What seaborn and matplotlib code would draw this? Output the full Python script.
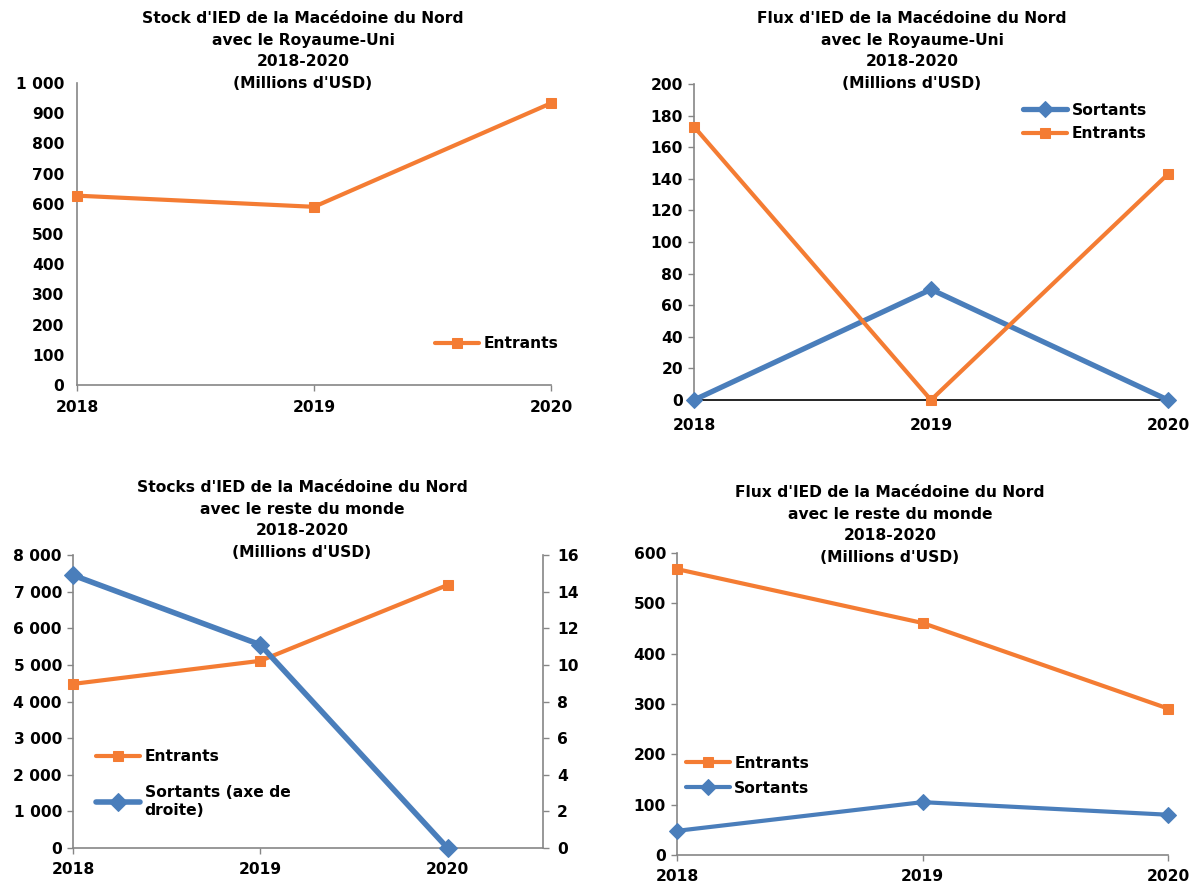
import os
import matplotlib
matplotlib.use("Agg")
import matplotlib.pyplot as plt
import matplotlib.ticker as mticker
from matplotlib.font_manager import FontProperties
import seaborn as sns

sns.set_theme(style="white")
plt.rcParams["font.family"] = "sans-serif"
plt.rcParams["font.sans-serif"] = ["DejaVu Sans"]
plt.rcParams["font.weight"] = "bold"
plt.rcParams["text.color"] = "black"

FS = 11.2
_bold = os.path.join(matplotlib.get_data_path(), "fonts", "ttf", "DejaVuSans-Bold.ttf")
if os.path.exists(_bold):
    FP = FontProperties(fname=_bold, size=FS)
else:
    FP = FontProperties(family="DejaVu Sans", weight="bold", size=FS)

# ---- data -------------------------------------------------------------
years = [2018, 2019, 2020]

# Stock with the United Kingdom
uk_stock_in = [627, 590, 933]

# Flows with the United Kingdom
uk_flow_out = [0, 70, 0]
uk_flow_in = [173, 0, 143]

# Stocks with the rest of the world
world_stock_in = [4480, 5110, 7180]
world_stock_out = [14.9, 11.1, 0]  # right axis

# Flows with the rest of the world
world_flow_in = [568, 461, 291]
world_flow_out = [48, 105, 80]

titles = [
    "Stock d'IED de la Macédoine du Nord\navec le Royaume-Uni\n2018-2020\n(Millions d'USD)",
    "Flux d'IED de la Macédoine du Nord\navec le Royaume-Uni\n2018-2020\n(Millions d'USD)",
    "Stocks d'IED de la Macédoine du Nord\navec le reste du monde\n2018-2020\n(Millions d'USD)",
    "Flux d'IED de la Macédoine du Nord\navec le reste du monde\n2018-2020\n(Millions d'USD)",
]

ORANGE = "#F47C33"
BLUE = "#4A7EBB"
GRID = "#868686"

W, H = 1197, 885
fig = plt.figure(figsize=(W / 100, H / 100), dpi=100)


def rect(l, r, t, b):
    return [l / W, 1 - b / H, (r - l) / W, (b - t) / H]


def space_thousands(v, _):
    return f"{int(round(v)):,}".replace(",", " ")


def bold_ticks(ax):
    for lab in ax.get_xticklabels() + ax.get_yticklabels():
        lab.set_fontproperties(FP)
        lab.set_color("black")


def style_axes(ax, ytick_len=4, xtick_len=4, xcolor=GRID, xpad=7):
    sns.despine(ax=ax)
    for s in ("left", "bottom"):
        ax.spines[s].set_color(GRID)
        ax.spines[s].set_linewidth(1.2)
    ax.spines["bottom"].set_color(xcolor)
    ax.tick_params(axis="y", length=ytick_len, width=1, color=GRID, pad=4,
                   left=ytick_len > 0)
    ax.tick_params(axis="x", length=xtick_len, width=1, color=GRID, pad=xpad,
                   bottom=True)
    ax.set_xlabel("")
    ax.set_ylabel("")
    ax.set_xticks(years)
    ax.set_xticklabels([str(y) for y in years])


def draw(ax, vals, color, marker, ms, label, lw=3.0):
    sns.lineplot(x=years, y=vals, ax=ax, color=color, marker=marker,
                 markersize=ms, markeredgecolor=color, linewidth=lw,
                 label=label, clip_on=False, zorder=5)


def legend(ax, *args, **kw):
    return ax.legend(*args, frameon=False, prop=FP, handlelength=2.8,
                     handletextpad=0.3, **kw)


# ---- panel 1 ---------------------------------------------------------
ax1 = fig.add_axes(rect(77, 551, 83, 385))
draw(ax1, uk_stock_in, ORANGE, "s", 7, "Entrants")
ax1.set_xlim(2018, 2020)
ax1.set_ylim(0, 1000)
ax1.set_yticks(range(0, 1001, 100))
ax1.yaxis.set_major_formatter(mticker.FuncFormatter(space_thousands))
style_axes(ax1, ytick_len=0)
ax1.tick_params(axis="y", pad=9)
legend(ax1, loc="lower right", bbox_to_anchor=(1.045, 0.065))

# ---- panel 2 ---------------------------------------------------------
ax2 = fig.add_axes(rect(694, 1168, 84, 400))
draw(ax2, uk_flow_out, BLUE, "D", 8, "Sortants", lw=3.8)
draw(ax2, uk_flow_in, ORANGE, "s", 7, "Entrants")
ax2.set_xlim(2018, 2020)
ax2.set_ylim(0, 200)
ax2.set_yticks(range(0, 201, 20))
style_axes(ax2, xtick_len=0, xcolor="black", xpad=13)
legend(ax2, loc="upper right", bbox_to_anchor=(0.985, 0.985),
       labelspacing=0.55)

# ---- panel 3 ---------------------------------------------------------
ax3 = fig.add_axes(rect(73, 543, 555, 848))
draw(ax3, world_stock_in, ORANGE, "s", 7, "Entrants")
ax3.set_xlim(2018, 2020.51)
ax3.set_ylim(0, 8000)
ax3.set_yticks(range(0, 8001, 1000))
ax3.yaxis.set_major_formatter(mticker.FuncFormatter(space_thousands))
style_axes(ax3, xpad=6)
ax3b = ax3.twinx()
sns.lineplot(x=years, y=world_stock_out, ax=ax3b, color=BLUE, marker="D",
             markersize=9, markeredgecolor=BLUE, linewidth=4,
             label="Sortants (axe de\ndroite)", clip_on=False, zorder=5,
             legend=False)
ax3b.set_ylim(0, 16)
ax3b.set_yticks(range(0, 17, 2))
ax3b.set_ylabel("")
for s in ("top", "left", "bottom"):
    ax3b.spines[s].set_visible(False)
ax3b.spines["right"].set_color(GRID)
ax3b.spines["right"].set_linewidth(1.2)
ax3b.tick_params(axis="y", length=4, width=1, color=GRID, pad=6, right=True)
h1, l1 = ax3.get_legend_handles_labels()
h2, l2 = ax3b.get_legend_handles_labels()
if ax3.get_legend():
    ax3.get_legend().remove()
legend(ax3b, h1 + h2, l1 + l2, loc="lower left",
       bbox_to_anchor=(0.02, 0.055), labelspacing=1.35)

# ---- panel 4 ---------------------------------------------------------
ax4 = fig.add_axes(rect(677, 1168, 553, 855))
draw(ax4, world_flow_in, ORANGE, "s", 7, "Entrants")
draw(ax4, world_flow_out, BLUE, "D", 8, "Sortants")
ax4.set_xlim(2018, 2020)
ax4.set_ylim(0, 600)
ax4.set_yticks(range(0, 601, 100))
style_axes(ax4, xpad=6)
legend(ax4, loc="lower left", bbox_to_anchor=(-0.01, 0.15),
       labelspacing=0.65)

for ax in (ax1, ax2, ax3, ax3b, ax4):
    bold_ticks(ax)

# ---- titles ----------------------------------------------------------
title_pos = [(303, 11), (912, 11), (302, 480), (890, 485)]
for (cx, ty), t in zip(title_pos, titles):
    fig.text(cx / W, 1 - ty / H, t, ha="center", va="top",
             fontproperties=FP, linespacing=1.55)

fig.savefig("out.png", dpi=100, facecolor="white")
